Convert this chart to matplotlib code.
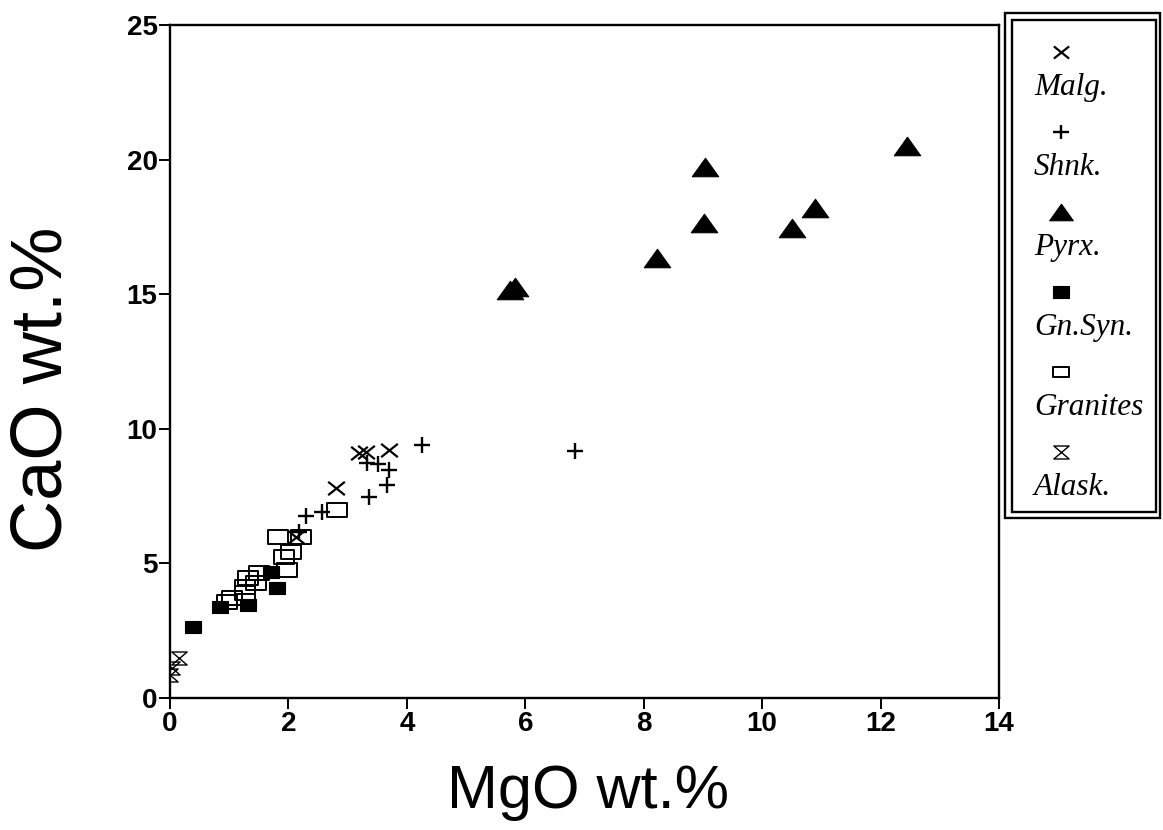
import matplotlib
matplotlib.use("Agg")
import matplotlib.pyplot as plt
from matplotlib.path import Path
from matplotlib.patches import Rectangle

# ---------------- data (MgO wt.%, CaO wt.%) ----------------
malg_mgo = [3.31, 3.19, 3.70, 2.81, 2.13]
malg_cao = [9.14, 9.11, 9.22, 7.81, 5.99]

shnk_mgo = [4.25, 6.84, 3.33, 3.52, 3.70, 3.66, 3.36, 2.30, 2.57, 2.18]
shnk_cao = [9.40, 9.18, 8.74, 8.70, 8.48, 7.92, 7.47, 6.77, 6.91, 6.17]

pyrx_mgo = [12.45, 10.89, 10.50, 9.04, 9.01, 8.22, 5.83, 5.75]
pyrx_cao = [20.52, 18.20, 17.47, 19.74, 17.66, 16.36, 15.28, 15.17]

gnsyn_mgo = [1.70, 1.80, 1.31, 0.84, 0.39]
gnsyn_cao = [4.68, 4.09, 3.46, 3.38, 2.64]

gran_mgo = [2.82, 1.82, 2.22, 2.05, 1.93, 1.97, 1.51, 1.31, 1.26, 1.46, 1.04, 0.96, 1.26]
gran_cao = [6.99, 5.99, 5.99, 5.43, 5.24, 4.76, 4.65, 4.46, 4.13, 4.28, 3.72, 3.57, 3.90]

alask_mgo = [0.15, 0.03, 0.00]
alask_cao = [1.50, 1.12, 0.86]

legend_labels = ["Malg.", "Shnk.", "Pyrx.", "Gn.Syn.", "Granites", "Alask."]
x_ticks = [0, 2, 4, 6, 8, 10, 12, 14]
y_ticks = [0, 5, 10, 15, 20, 25]

# ---------------- marker shapes ----------------
xmark = Path([(-1, -0.8), (1, 0.8), (-1, 0.8), (1, -0.8)],
             [Path.MOVETO, Path.LINETO, Path.MOVETO, Path.LINETO])
plusmark = Path([(-1, 0), (1, 0), (0, -0.9), (0, 0.9)],
                [Path.MOVETO, Path.LINETO, Path.MOVETO, Path.LINETO])
tri = Path([(-1, -0.7), (1, -0.7), (0, 0.7), (-1, -0.7)],
           [Path.MOVETO, Path.LINETO, Path.LINETO, Path.CLOSEPOLY])
rect_open = Path([(-1, -0.7), (1, -0.7), (1, 0.7), (-1, 0.7), (-1, -0.7)],
                 [Path.MOVETO, Path.LINETO, Path.LINETO, Path.LINETO, Path.CLOSEPOLY])
rect_fill = Path([(-1, -0.75), (1, -0.75), (1, 0.75), (-1, 0.75), (-1, -0.75)],
                 [Path.MOVETO, Path.LINETO, Path.LINETO, Path.LINETO, Path.CLOSEPOLY])
hourglass = Path([(-1, 0.85), (1, 0.85), (-1, -0.85), (1, -0.85), (-1, 0.85)],
                 [Path.MOVETO, Path.LINETO, Path.LINETO, Path.LINETO, Path.CLOSEPOLY])

styles = [
    dict(marker=xmark, ms=12, mfc="none", mec="black", mew=1.6),
    dict(marker=plusmark, ms=12, mfc="none", mec="black", mew=1.7),
    dict(marker=tri, ms=19, mfc="black", mec="black", mew=0.8),
    dict(marker=rect_fill, ms=12, mfc="black", mec="black", mew=0.8),
    dict(marker=rect_open, ms=15, mfc="none", mec="black", mew=1.4),
    dict(marker=hourglass, ms=11, mfc="none", mec="black", mew=1.0),
]
series = [(malg_mgo, malg_cao), (shnk_mgo, shnk_cao), (pyrx_mgo, pyrx_cao),
          (gnsyn_mgo, gnsyn_cao), (gran_mgo, gran_cao), (alask_mgo, alask_cao)]

W, H = 1163, 830
fig = plt.figure(figsize=(W / 100, H / 100), dpi=100)
fig.patch.set_facecolor("white")

L, R, T, B = 170, 999, 25, 698
ax = fig.add_axes([L / W, 1 - B / H, (R - L) / W, (B - T) / H])

order = [4, 3, 0, 1, 2, 5]
for z, i in enumerate(order):
    xs, ys = series[i]
    ax.plot(xs, ys, linestyle="none", **styles[i], zorder=3 + z)

ax.set_xlim(0, 14)
ax.set_ylim(0, 25)
ax.set_xticks(x_ticks)
ax.set_yticks(y_ticks)
ax.set_xticklabels([str(t) for t in x_ticks])
ax.set_yticklabels([str(t) for t in y_ticks])
for s in ax.spines.values():
    s.set_linewidth(1.7)
ax.tick_params(direction="out", length=8, width=1.4, pad=1,
               labelsize=20, top=False, right=False)
for lab in ax.get_xticklabels() + ax.get_yticklabels():
    lab.set_fontfamily("Liberation Sans")
    lab.set_fontweight("bold")

fig.text(588 / W, 1 - 808 / H, "MgO wt.%", family="Liberation Sans",
         fontsize=44, ha="center", va="baseline")
fig.text(62 / W, 1 - 389 / H, "CaO wt.%", family="Liberation Sans",
         fontsize=52, ha="center", va="baseline", rotation=90,
         rotation_mode="anchor")

# ---------------- legend panel ----------------
lax = fig.add_axes([0, 0, 1, 1], zorder=10)
lax.set_xlim(0, W)
lax.set_ylim(H, 0)
lax.axis("off")
lax.patch.set_alpha(0)
lax.add_patch(Rectangle((1005, 13), 155, 505, fill=False, lw=1.7, ec="black"))
lax.add_patch(Rectangle((1012, 20), 144, 492, fill=False, lw=1.7, ec="black"))

leg_ms = [11, 11, 17, 11, 11, 11]
for k, lab in enumerate(legend_labels):
    st = dict(styles[k])
    st["ms"] = leg_ms[k]
    base = 95 + 80 * k
    lax.plot([1061], [base - 43], linestyle="none", **st)
    lax.text(1034, base, lab, family="Liberation Serif", style="italic",
             fontsize=22.5, ha="left", va="baseline")

fig.savefig("out.png", dpi=100, facecolor="white")
